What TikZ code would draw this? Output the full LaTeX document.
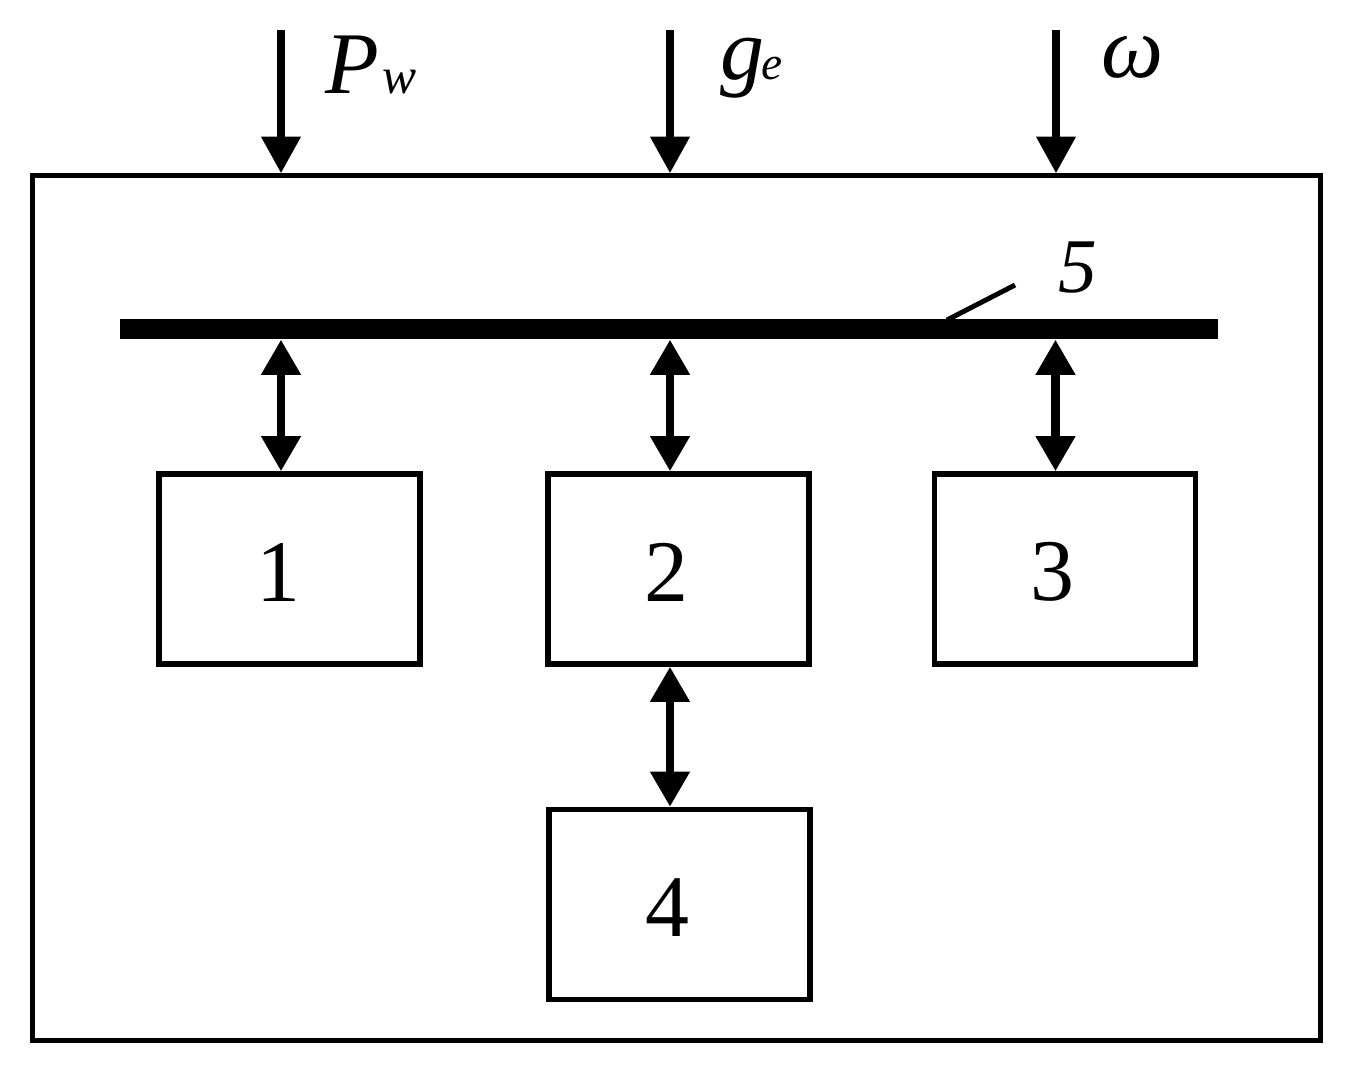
\documentclass[tikz,border=0pt]{standalone}
\usepackage{fontspec}
\setmainfont{Liberation Serif}
\usetikzlibrary{arrows.meta}
\begin{document}
\begin{tikzpicture}[x=0.01cm,y=-0.01cm,
  box/.style={draw,line width=1.56pt,minimum width=2.61cm,minimum height=1.9cm,inner sep=0pt},
  biarrow/.style={line width=2.3pt,{Triangle[width=10.8pt,length=10pt]}-{Triangle[width=10.8pt,length=10pt]}},
  inarrow/.style={line width=2.1pt,-{Triangle[width=10.8pt,length=10.4pt]}},
  lbl/.style={font=\fontsize{25}{30}\selectfont,inner sep=0pt}]
\useasboundingbox (0,0) rectangle (1354,1069);
% outer frame
\node[draw,line width=1.45pt,minimum width=12.87cm,minimum height=8.64cm,inner sep=0pt] (outer) at (676.5,608) {};
% bus
\node[fill=black,minimum width=10.98cm,minimum height=0.2cm,inner sep=0pt] (bus) at (669,329) {};
% boxes
\node[box,label={[lbl,xshift=-0.11cm,yshift=-0.03cm]center:1}] (b1) at (289.5,569) {};
\node[box,label={[lbl,xshift=-0.12cm,yshift=-0.03cm]center:2}] (b2) at (678.5,569) {};
\node[box,label={[lbl,xshift=-0.13cm,yshift=-0.03cm]center:3}] (b3) at (1065,569) {};
\node[box,label={[lbl,xshift=-0.12cm,yshift=-0.03cm]center:4}] (b4) at (679.5,904.5) {};
% column coordinates
\coordinate (c1) at (281,30);
\coordinate (c2) at (670,30);
\coordinate (c3) at (1056,30);
% inputs
\draw[inarrow] (c1) -- (c1 |- outer.north);
\draw[inarrow] (c2) -- (c2 |- outer.north);
\draw[inarrow] (c3) -- (c3 |- outer.north);
\node[lbl,anchor=base west] (pw) at (325,93) {\textit{P}\kern1pt\textit{\fontsize{14.5}{17}\selectfont w}};
\node[lbl,anchor=base west] (ge) at (720,79) {\textit{g}\kern-1pt\textit{\fontsize{13.5}{16}\selectfont e}};
\node[lbl,anchor=base west,font=\fontsize{25}{30}\selectfont] (om) at (1101,77) {\textit{ω}};
% bus to boxes
\draw[biarrow] (c1 |- bus.south) -- (c1 |- b1.north);
\draw[biarrow] (c2 |- bus.south) -- (c2 |- b2.north);
\draw[biarrow] ([xshift=-0.005cm]c3 |- bus.south) -- ([xshift=-0.005cm]c3 |- b3.north);
\draw[biarrow] (c2 |- b2.south) -- (c2 |- b4.north);
% label 5
\coordinate (lead) at (947,320);
\draw[line width=1.4pt] (lead) -- (1015,285);
\node[lbl,anchor=base,font=\fontsize{22}{26}\selectfont] (five) at (1078,292) {\textit{5}};
\end{tikzpicture}
\end{document}
